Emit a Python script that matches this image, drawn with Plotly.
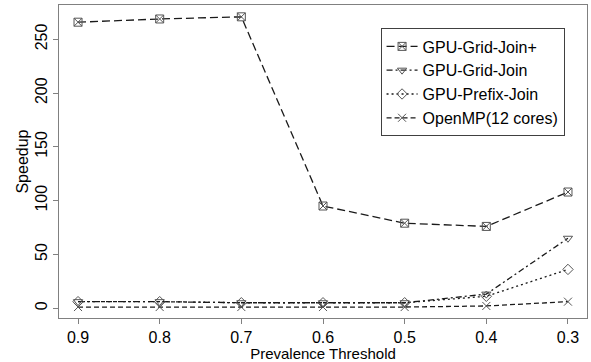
import plotly.graph_objects as go

thresholds = [0.9, 0.8, 0.7, 0.6, 0.5, 0.4, 0.3]
grid_join_plus = [266, 269, 271, 95, 79, 76, 108]
grid_join = [6, 6, 5, 5, 5, 13, 65]
prefix_join = [6, 6, 5, 5, 5, 11, 36]
openmp = [1, 1, 1, 1, 1, 2, 6]

series = [
    ("GPU-Grid-Join+", grid_join_plus, "square-x-open", "8px,4px"),
    ("GPU-Grid-Join", grid_join, "triangle-down-open", "6px,3px,2px,3px"),
    ("GPU-Prefix-Join", prefix_join, "diamond-open", "2px,3px"),
    ("OpenMP(12 cores)", openmp, "x-thin-open", "5px,3px"),
]

fig = go.Figure()
for name, vals, sym, dash in series:
    fig.add_trace(go.Scatter(
        x=thresholds, y=vals, name=name, mode="lines+markers",
        line=dict(color="#1a1a1a", width=1.3, dash=dash),
        marker=dict(symbol=sym, size=8, color="#555555",
                    line=dict(color="#555555", width=1)),
    ))

font_family = "Liberation Sans, Arial"
axis_common = dict(
    showline=True, linecolor="#808080", linewidth=1, mirror=True,
    ticks="outside", ticklen=5, tickcolor="#808080",
    showgrid=False, zeroline=False,
    tickfont=dict(family=font_family, size=16, color="black"),
)
fig.update_xaxes(
    range=[0.9233, 0.2767], tickvals=thresholds,
    ticktext=["0.9", "0.8", "0.7", "0.6", "0.5", "0.4", "0.3"],
    title=dict(text="Prevalence Threshold", standoff=2,
               font=dict(family=font_family, size=15, color="black")),
    **axis_common,
)
fig.update_yaxes(
    range=[-9.2, 282], tickvals=[0, 50, 100, 150, 200, 250], tickangle=-90,
    **axis_common,
)
fig.add_annotation(
    text="Speedup", xref="paper", yref="paper", x=(22 - 59) / 529, y=0.5,
    xanchor="center", yanchor="middle", textangle=-90, showarrow=False,
    font=dict(family=font_family, size=16, color="black"),
)
fig.update_layout(
    width=591, height=362,
    margin=dict(l=59, r=3, t=5, b=39),
    plot_bgcolor="white", paper_bgcolor="white",
    legend=dict(x=0.609, y=0.925, xanchor="left", yanchor="top",
                bordercolor="#404040", borderwidth=1, bgcolor="white",
                font=dict(family=font_family, size=16, color="black"),
                tracegroupgap=0, itemwidth=31),
    showlegend=True,
)
fig.write_html("out.html")
